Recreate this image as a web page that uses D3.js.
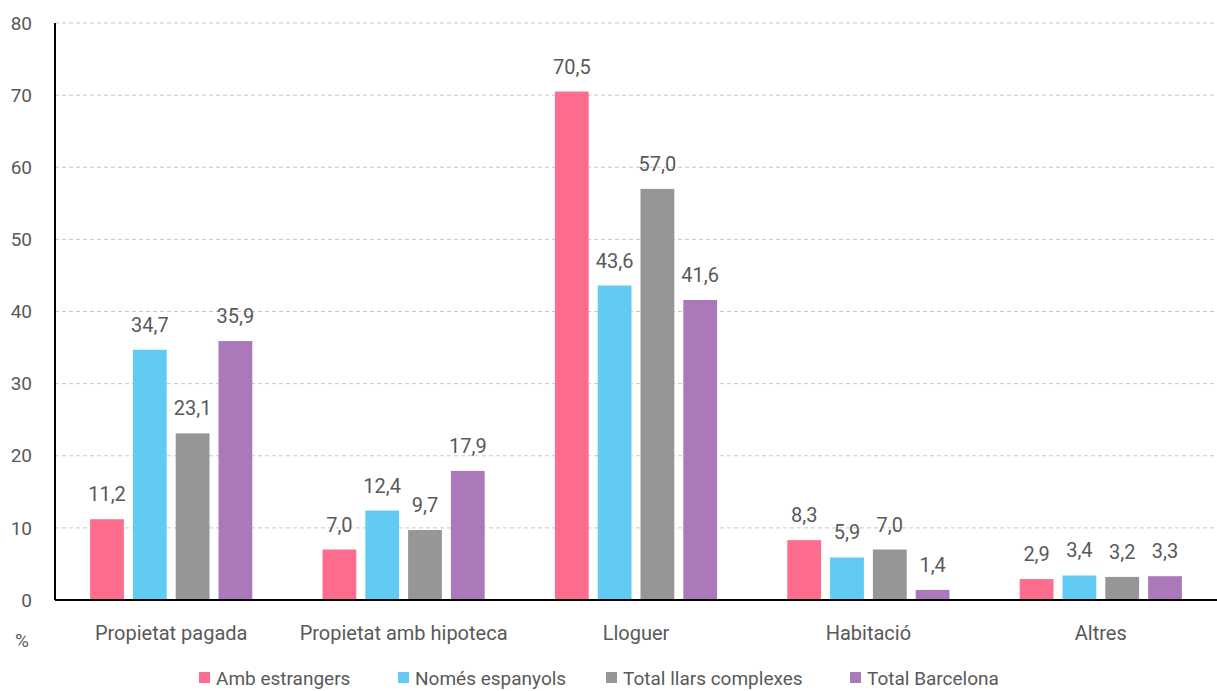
<!DOCTYPE html>
<html>
<head>
<meta charset="utf-8">
<script src="https://cdn.jsdelivr.net/npm/d3@7"></script>
<style>
  body { margin: 0; background: #fff; }
  text { font-family: Roboto, "Open Sans", sans-serif; fill: #595959; }
</style>
</head>
<body>
<div id="chart"></div>
<script>
var categories = ["Propietat pagada", "Propietat amb hipoteca", "Lloguer", "Habitació", "Altres"];
var seriesNames = ["Amb estrangers", "Només espanyols", "Total llars complexes", "Total Barcelona"];
var ambEstrangers = [11.2, 7.0, 70.5, 8.3, 2.9];
var nomesEspanyols = [34.7, 12.4, 43.6, 5.9, 3.4];
var totalComplexes = [23.1, 9.7, 57.0, 7.0, 3.2];
var totalBarcelona = [35.9, 17.9, 41.6, 1.4, 3.3];
var yTicks = [0, 10, 20, 30, 40, 50, 60, 70, 80];
var colors = ["#ff6d8e", "#62cbf3", "#969696", "#ab79ba"];

var values = [ambEstrangers, nomesEspanyols, totalComplexes, totalBarcelona];

var W = 1217, H = 691;
var margin = { top: 23, right: 0, bottom: 91, left: 55 };
var width = W - margin.left - margin.right;
var height = H - margin.top - margin.bottom;

var svg = d3.select("#chart").append("svg")
    .attr("width", W).attr("height", H);
var g = svg.append("g")
    .attr("transform", "translate(" + margin.left + "," + margin.top + ")");

var x0 = d3.scaleBand().domain(categories).range([0, width]);
var x1 = d3.scaleBand().domain(seriesNames).range([0, x0.bandwidth()]).paddingInner(0.21).paddingOuter(0.82);
var y = d3.scaleLinear().domain([0, 80]).range([height, 0]);

// gridlines
g.selectAll(".grid").data(yTicks.filter(function (d) { return d > 0; }))
  .enter().append("line")
    .attr("x1", 0).attr("x2", width)
    .attr("y1", function (d) { return y(d); })
    .attr("y2", function (d) { return y(d); })
    .attr("stroke", "#c8c8c8")
    .attr("stroke-dasharray", "4,3");

// y tick labels
g.selectAll(".ytick").data(yTicks)
  .enter().append("text")
    .attr("x", -23)
    .attr("y", function (d) { return y(d); })
    .attr("dy", "0.35em")
    .attr("text-anchor", "end")
    .style("font-size", "19px")
    .text(function (d) { return d; });

// bars
var groups = g.selectAll(".grp").data(categories)
  .enter().append("g")
    .attr("transform", function (d) { return "translate(" + x0(d) + ",0)"; });

groups.each(function (cat, ci) {
  var sel = d3.select(this);
  seriesNames.forEach(function (s, si) {
    var v = values[si][ci];
    sel.append("rect")
      .attr("x", x1(s))
      .attr("width", x1.bandwidth())
      .attr("y", y(v))
      .attr("height", height - y(v))
      .attr("fill", colors[si]);
    sel.append("text")
      .attr("x", x1(s) + x1.bandwidth() / 2)
      .attr("y", y(v) - 18)
      .attr("text-anchor", "middle")
      .style("font-size", "20px")
      .text(d3.format(".1f")(v).replace(".", ","));
  });
});

// axes lines
g.append("line").attr("x1", 0).attr("x2", 0).attr("y1", 0).attr("y2", height)
  .attr("stroke", "#000").attr("stroke-width", 2);
g.append("line").attr("x1", 0).attr("x2", width).attr("y1", height).attr("y2", height)
  .attr("stroke", "#000").attr("stroke-width", 2);

// category labels
g.selectAll(".xlab").data(categories)
  .enter().append("text")
    .attr("x", function (d) { return x0(d) + x0.bandwidth() / 2; })
    .attr("y", height + 40)
    .attr("text-anchor", "middle")
    .style("font-size", "20px")
    .text(function (d) { return d; });

svg.append("text")
  .attr("x", 22).attr("y", 647)
  .attr("text-anchor", "middle")
  .style("font-size", "19px")
  .text("%");

// legend
var legendX = [199, 398, 606, 850];
var legend = svg.selectAll(".leg").data(seriesNames)
  .enter().append("g")
    .attr("transform", function (d, i) { return "translate(" + legendX[i] + ",672)"; });
legend.append("rect").attr("width", 11).attr("height", 11).attr("fill", function (d, i) { return colors[i]; });
legend.append("text").attr("x", 17).attr("y", 6).attr("dy", "0.35em")
  .style("font-size", "19px").text(function (d) { return d; });
</script>
</body>
</html>
